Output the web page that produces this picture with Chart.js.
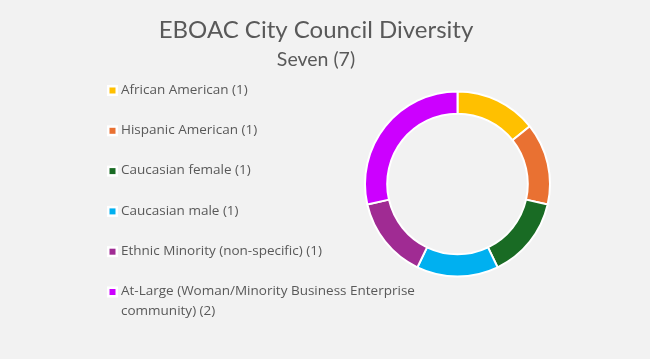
<!DOCTYPE html>
<html>
<head>
<meta charset="utf-8">
<script src="https://cdn.jsdelivr.net/npm/chart.js@4"></script>
<style>
  html, body { margin: 0; padding: 0; background: #f2f2f2; }
  #wrap { width: 650px; height: 359px; }
</style>
</head>
<body>
<div id="wrap"><canvas id="c" width="650" height="359"></canvas></div>
<script>
// chart data
const titleText = 'EBOAC City Council Diversity';
const subtitleText = 'Seven (7)';
const categories = [
  'African American (1)',
  'Hispanic American (1)',
  'Caucasian female (1)',
  'Caucasian male (1)',
  'Ethnic Minority (non-specific) (1)',
  'At-Large (Woman/Minority Business Enterprise community) (2)'
];
const seats = [1, 1, 1, 1, 1, 2];
const sliceColors = ['#FFC000', '#E97132', '#196B24', '#00B0F0', '#A02B93', '#CC00FF'];

const FONT = '"Open Sans", "Noto Sans", sans-serif';
const TITLE_FONT = 'Lato, "Open Sans", sans-serif';
const TEXT = '#595959';

// Title block centred on the whole canvas (the layout padding would squeeze the built-in one)
const headerText = {
  id: 'headerText',
  afterDraw(chart) {
    const { ctx } = chart;
    ctx.save();
    ctx.fillStyle = TEXT;
    ctx.textAlign = 'center';
    ctx.textBaseline = 'alphabetic';
    ctx.font = '24px ' + TITLE_FONT;
    ctx.fillText(titleText, 316, 38);
    ctx.font = '19.5px ' + TITLE_FONT;
    ctx.fillText(subtitleText, 316, 66);
    ctx.restore();
  }
};

// Legend on the left, drawn by hand so long labels can wrap
const sideLegend = {
  id: 'sideLegend',
  afterDraw(chart) {
    const { ctx } = chart;
    const labels = chart.data.labels;
    const colors = chart.data.datasets[0].backgroundColor;
    const x0 = 107, textX = 121, maxW = 300;
    let y = 90;
    ctx.save();
    ctx.font = '13.5px ' + FONT;
    ctx.textBaseline = 'middle';
    labels.forEach((lab, i) => {
      ctx.fillStyle = '#ffffff';
      ctx.fillRect(x0, y - 5, 11, 11);
      ctx.fillStyle = colors[i];
      ctx.fillRect(x0 + 2.5, y - 2.5, 6, 6);
      const words = lab.split(' ');
      const lines = [];
      let cur = '';
      words.forEach(w => {
        const test = cur ? cur + ' ' + w : w;
        if (ctx.measureText(test).width > maxW && cur) {
          lines.push(cur);
          cur = w;
        } else {
          cur = test;
        }
      });
      lines.push(cur);
      ctx.fillStyle = TEXT;
      lines.forEach((ln, j) => ctx.fillText(ln, textX, y + j * 20));
      y += 40.3;
    });
    ctx.restore();
  }
};

new Chart(document.getElementById('c'), {
  type: 'doughnut',
  data: {
    labels: categories,
    datasets: [{
      data: seats,
      backgroundColor: sliceColors,
      borderColor: '#ffffff',
      borderWidth: 2,
      hoverOffset: 0
    }]
  },
  options: {
    responsive: false,
    animation: false,
    cutout: '76%',
    layout: { padding: { left: 364, right: 99, top: 80, bottom: 71 } },
    plugins: {
      legend: { display: false },
      tooltip: { enabled: false },
      title: { display: false }
    }
  },
  plugins: [{
    id: 'bg',
    beforeDraw(chart) {
      const { ctx } = chart;
      ctx.save();
      ctx.fillStyle = '#f2f2f2';
      ctx.fillRect(0, 0, chart.width, chart.height);
      ctx.restore();
    }
  }, sideLegend, headerText]
});
</script>
</body>
</html>
